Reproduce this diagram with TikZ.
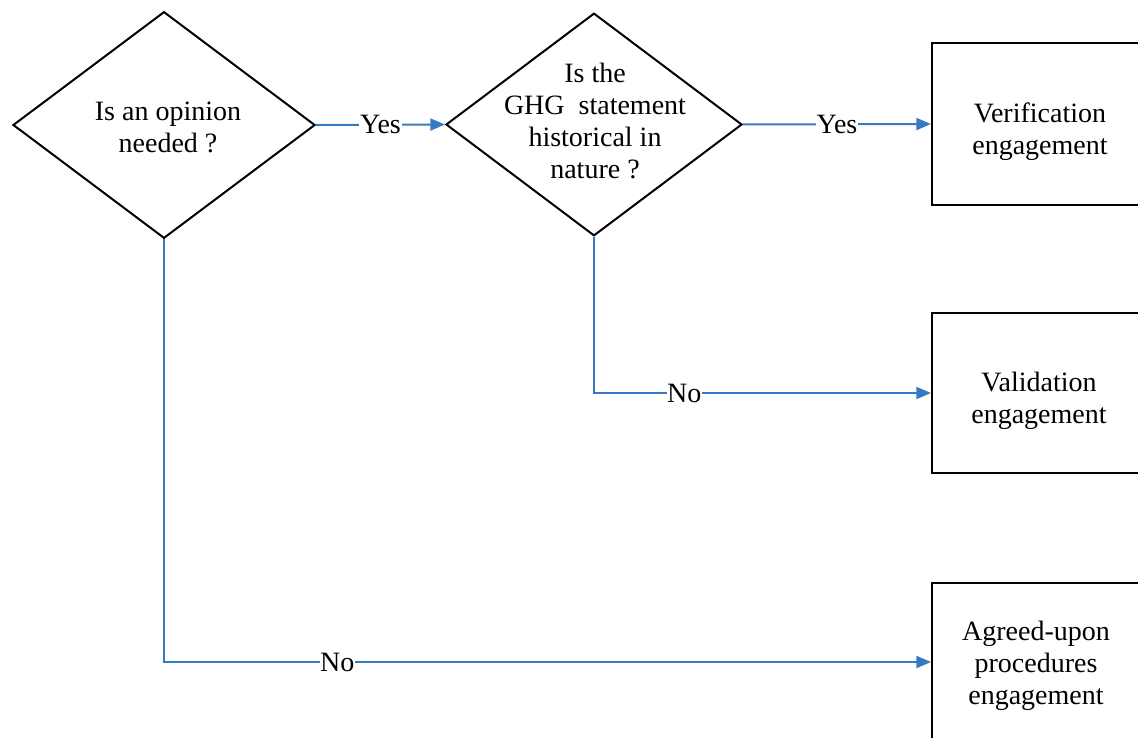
\documentclass[tikz,border=0pt]{standalone}
\usepackage{fontspec}
\setmainfont{Liberation Serif}
\usetikzlibrary{shapes.geometric,arrows.meta}
\definecolor{flowblue}{RGB}{55,122,196}
\tikzset{
  question/.style={diamond, draw, line width=1.5pt, inner sep=0pt},
  outcome/.style={rectangle, draw, line width=1.6pt, minimum width=165pt, minimum height=121pt, inner sep=0pt},
  flow/.style={flowblue, line width=1.5pt, -{Triangle[length=11pt,width=9pt]}},
  answer/.style={fill=white, text=black, inner sep=0.5pt}
}
\begin{document}
\begin{tikzpicture}[x=0.75pt, y=-0.75pt, align=center, font=\fontsize{21}{24}\selectfont]
	\useasboundingbox (0,0) rectangle (1138,738);
		\node[question, minimum width=226.5pt, minimum height=170pt] (opinion) at (164,125) {};
		\node (opiniontext) at (168,127) {Is an opinion\\needed ?};
		\node[question, minimum width=222pt, minimum height=167pt] (historical) at (594,124.5) {};
		\node (historicaltext) at (595,121) {Is the\\GHG~ statement\\historical in\\nature ?};
		\node[outcome, anchor=west] (verif) at (931,124) {};
		\node (veriftext) at (1040,132) {Verification\\engagement};
		\node[outcome, anchor=west, minimum height=120pt] (valid) at (931,393) {};
		\node (validtext) at (1039,401) {Validation\\engagement};
		\node[outcome, anchor=north west, minimum height=160pt] (aup) at (931,582) {};
		\node (aupttext) at (1036,666) {Agreed-upon\\procedures\\engagement};
		
		\draw[flow] (opinion.east) -- (historical.west) node[answer, pos=0.5]{Yes};
		\draw[flow] (historical.east) -- (verif.west) node[answer, pos=0.5]{Yes};
		\draw[flow] (historical.south) |- (valid.west) node[answer, pos=0.634]{No};
		\draw[flow] (opinion.south) |- (aup.west |- 0,662) node[answer, pos=0.613]{No};
		
	\end{tikzpicture}
\end{document}
